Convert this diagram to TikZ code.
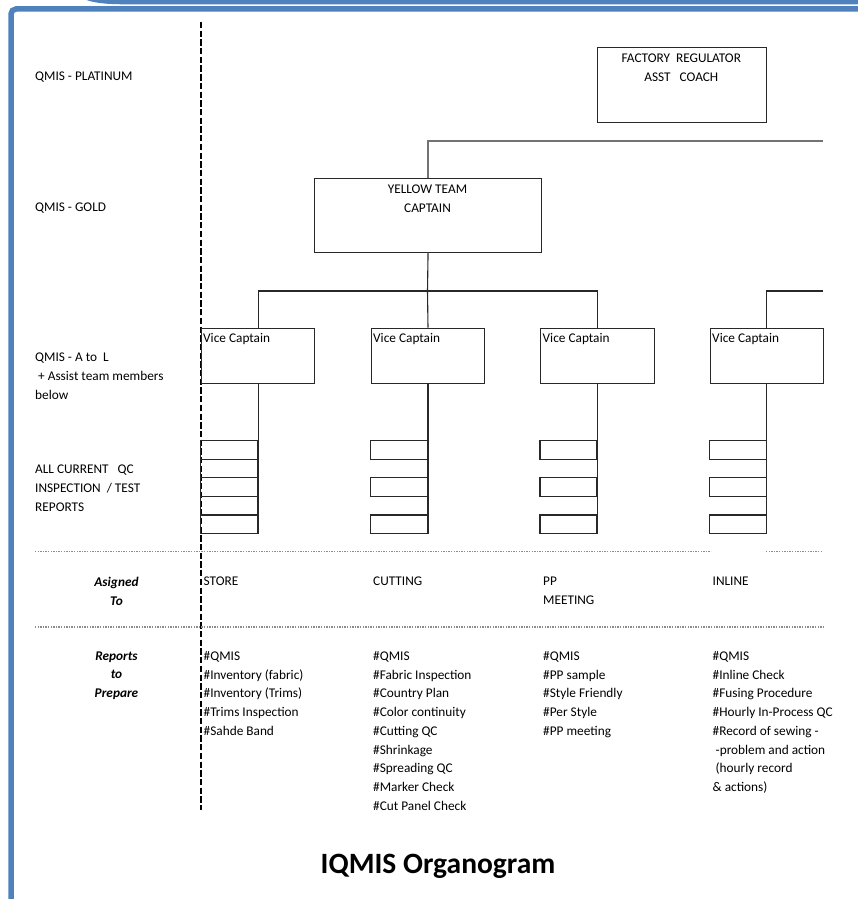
\documentclass[tikz,border=0pt]{standalone}
\usepackage{fontspec}
\setmainfont{Carlito}
\newcommand\mytxt{\fontsize{13.3}{18.75}\selectfont}
\newcommand\mytitle{\fontsize{29.5}{34}\selectfont\bfseries}
\definecolor{frameblue}{RGB}{79,129,189}
\definecolor{lncol}{RGB}{40,40,40}
\definecolor{dotcol}{RGB}{140,140,140}
\tikzset{
  tx/.style={anchor=north west, inner sep=0pt, font=\mytxt, align=left, yshift=8.8pt, execute at begin node=\strut},
  txm/.style={tx, yshift=-4.6pt},
  txc/.style={anchor=north, inner sep=0pt, font=\mytxt, align=center, yshift=4.2pt, execute at begin node=\strut},
  bigbox/.style={draw=lncol, line width=1.1pt, anchor=north west, inner sep=0pt},
  vcbox/.style={draw=lncol, line width=1.1pt, anchor=north west, inner sep=0pt, minimum width=113.3pt, minimum height=55.6pt},
  sbox/.style={draw=lncol, line width=1.1pt, anchor=north east, inner sep=0pt, minimum width=57pt, minimum height=18.6pt},
  conn/.style={draw=lncol, line width=1.1pt},
  dotline/.style={draw=dotcol, line width=1.2pt, dash pattern=on 1.3pt off 1.3pt},
  dashline/.style={draw=black, line width=1.8pt, dash pattern=on 6.3pt off 2.4pt}
}
\begin{document}
\begin{tikzpicture}[x=1pt, y=-1pt]
\useasboundingbox (0,0) rectangle (858,899);
\fill[white] (0,0) rectangle (858,899);
% frame
\fill[frameblue] (82,-2) .. controls (90,2.5) and (104,4.3) .. (125,4.3) -- (870,4.3) -- (870,-2) -- cycle;
\draw[frameblue, line width=5.5pt, rounded corners=5pt] (11,910) -- (11,9) -- (870,9);

% vertical dashed divider
\coordinate (dtop) at (201,22);
\coordinate (dbot) at (201,810);
\draw[dashline] (dtop) -- (dbot);

% left labels
\node[tx] (lplat) at (35,76) {QMIS - PLATINUM};
\node[tx] (lgold) at (35,207) {QMIS - GOLD};
\node[txm] (lal) at (35,357) {QMIS - A to\ \ L\\ \ + Assist team members\\below};
\node[txm] (lqc) at (35,469) {ALL CURRENT\ \ \ QC\\INSPECTION\ \ / TEST\\REPORTS};

% top boxes
\node[bigbox, minimum width=169.3pt, minimum height=74.7pt] (fr) at (596.7,47.3) {};
\node[txc] (frt) at (681.3,58.3) {FACTORY\ \ REGULATOR\\ASST\ \ \ COACH};
\node[bigbox, minimum width=227pt, minimum height=74pt] (yc) at (314,178) {};
\node[txc] (yct) at (427.5,189) {YELLOW TEAM\\CAPTAIN};

% vice captain boxes
\node[vcbox] (vc1) at (201,327.7) {};
\node[vcbox] (vc2) at (370.8,327.7) {};
\node[vcbox] (vc3) at (540.3,327.7) {};
\node[vcbox] (vc4) at (709.7,327.7) {};
\node[tx] (vc1t) at (203,338) {Vice Captain};
\node[tx] (vc2t) at (373,338) {Vice Captain};
\node[tx] (vc3t) at (542.5,338) {Vice Captain};
\node[tx] (vc4t) at (712,338) {Vice Captain};

% connectors on top
\coordinate (topR) at (823,141);
\coordinate (bus) at (427.5,291);
\coordinate (busR) at (823,291);
\draw[conn, draw=black!55, line width=1.5pt] (yc.north) |- (topR);
\draw[conn] (yc.south) -- (bus);
\draw[conn] (vc1.north) |- (bus) -| (vc3.north);
\draw[conn] (bus) -- (vc2.north);
\draw[conn] (vc4.north) |- (busR);

% small report boxes, column 1 (five stacked)
\node[sbox] (s11) at (vc1.south |- 0,440) {};
\node[sbox] (s12) at (vc1.south |- 0,458.6) {};
\node[sbox] (s13) at (vc1.south |- 0,477.2) {};
\node[sbox] (s14) at (vc1.south |- 0,495.8) {};
\node[sbox] (s15) at (vc1.south |- 0,514.4) {};
% columns 2-4 (three boxes)
\node[sbox] (s21) at (vc2.south |- 0,440) {};
\node[sbox] (s22) at (vc2.south |- 0,477.2) {};
\node[sbox] (s23) at (vc2.south |- 0,514.4) {};
\node[sbox] (s31) at (vc3.south |- 0,440) {};
\node[sbox] (s32) at (vc3.south |- 0,477.2) {};
\node[sbox] (s33) at (vc3.south |- 0,514.4) {};
\node[sbox] (s41) at (vc4.south |- 0,440) {};
\node[sbox] (s42) at (vc4.south |- 0,477.2) {};
\node[sbox] (s43) at (vc4.south |- 0,514.4) {};
\draw[conn] (vc1.south) -- (s15.south east);
\draw[conn] (vc2.south) -- (s23.south east);
\draw[conn] (vc3.south) -- (s33.south east);
\draw[conn] (vc4.south) -- (s43.south east);

% dotted separators
\coordinate (d1a) at (35,551.5);
\coordinate (d1b) at (711,551.5);
\coordinate (d1c) at (766,551.5);
\coordinate (d1d) at (823,551.5);
\coordinate (d2a) at (35,627);
\coordinate (d2b) at (823,627);
\draw[dotline] (d1a) -- (d1b);
\draw[dotline] (d1c) -- (d1d);
\draw[dotline] (d2a) -- (d2b);

% assigned row
\node[txc, font=\mytxt\bfseries\itshape] (asg) at (116.5,581) {Asigned\\To};
\node[tx] (a1) at (203.5,581) {STORE};
\node[tx] (a2) at (373,581) {CUTTING};
\node[txm] (a3) at (543,581) {PP\\MEETING};
\node[tx] (a4) at (712.5,581) {INLINE};

% reports row
\node[txc, font=\mytxt\bfseries\itshape] (rep) at (116.5,655.5) {Reports\\to\\Prepare};
\node[txm] (r1) at (203.5,655.5) {\#QMIS\\\#Inventory (fabric)\\\#Inventory (Trims)\\\#Trims Inspection\\\#Sahde Band};
\node[txm] (r2) at (373,655.5) {\#QMIS\\\#Fabric Inspection\\\#Country Plan\\\#Color continuity\\\#Cutting QC\\\#Shrinkage\\\#Spreading QC\\\#Marker Check\\\#Cut Panel Check};
\node[txm] (r3) at (543,655.5) {\#QMIS\\\#PP sample\\\#Style Friendly\\\#Per Style\\\#PP meeting};
\node[txm] (r4) at (712.5,655.5) {\#QMIS\\\#Inline Check\\\#Fusing Procedure\\\#Hourly In-Process QC\\\#Record of sewing -\\\ -problem and action\\\ (hourly record\\\& actions)};

% title
\node[anchor=base, inner sep=0pt, font=\mytitle] (title) at (438,873) {IQMIS Organogram};
\end{tikzpicture}
\end{document}
